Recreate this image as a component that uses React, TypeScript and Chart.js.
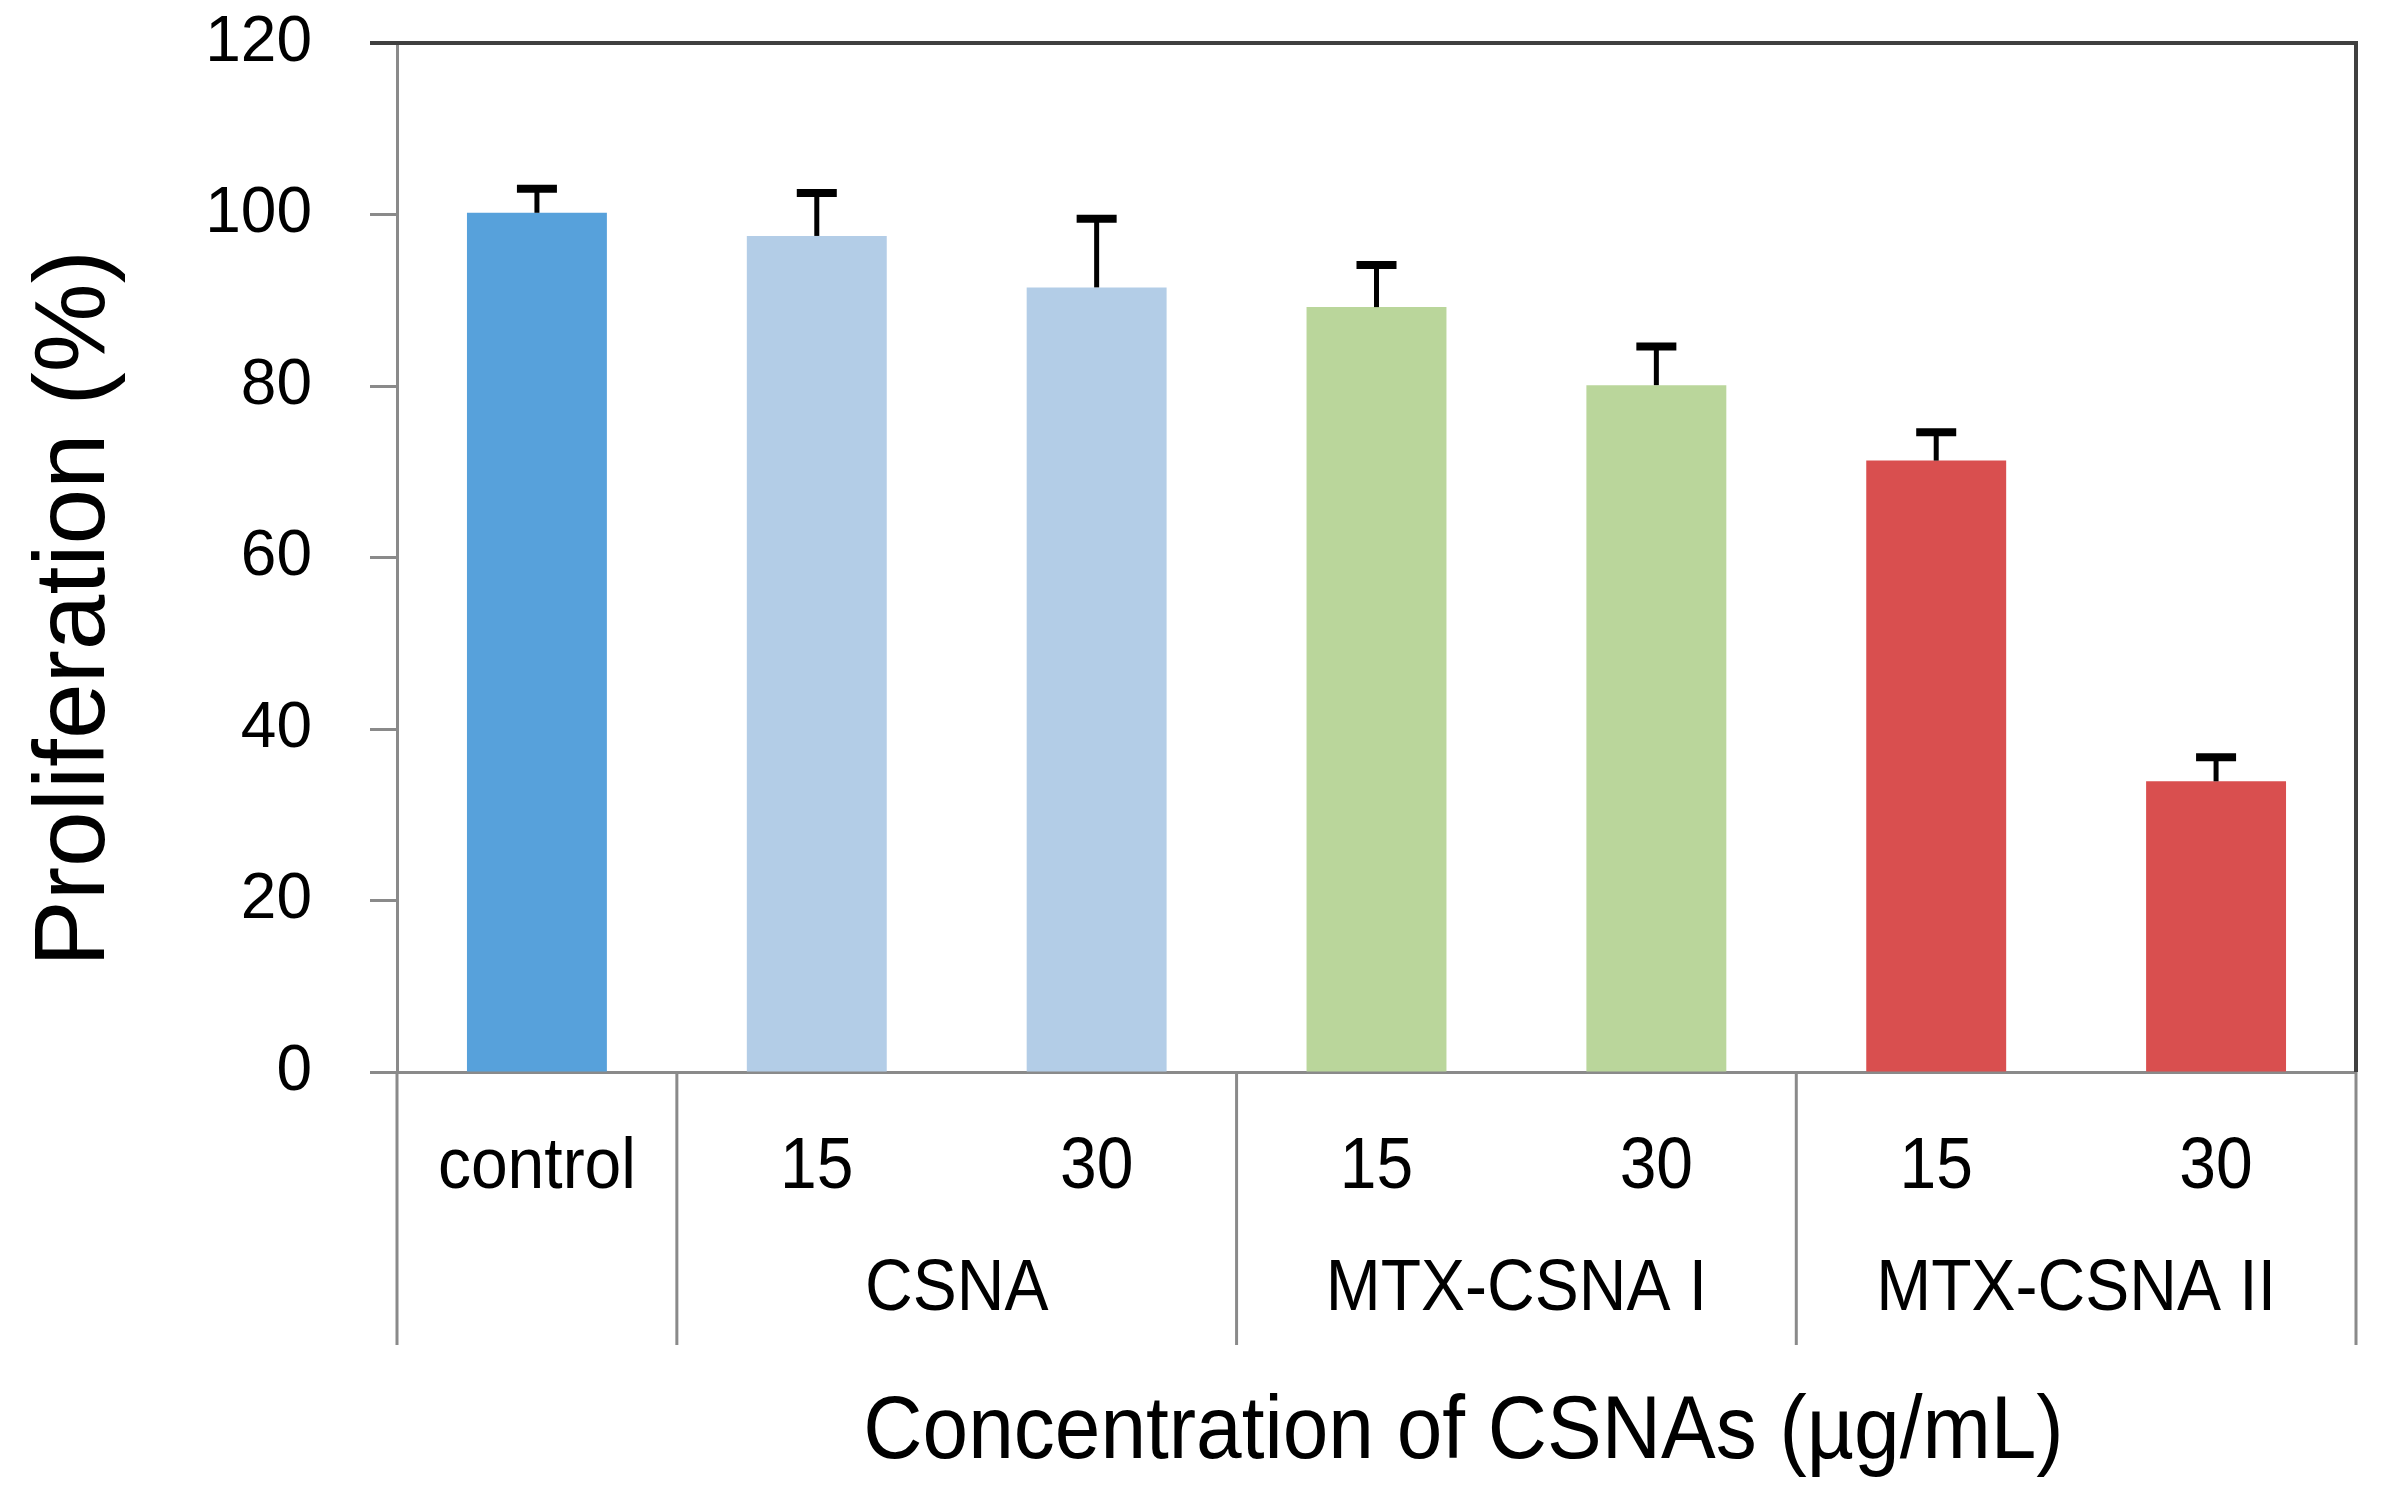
import React, { useEffect, useRef } from "react";
import { Chart, registerables } from "chart.js";

Chart.register(...registerables);

const categories = ["control", "15", "30", "15", "30", "15", "30"];
const groupNames = ["CSNA", "MTX-CSNA I", "MTX-CSNA II"];
const groupFirst = [1, 3, 5];
const groupLast = [2, 4, 6];
const separatorAfter = [0, 2, 4];
const proliferation = [100.2, 97.5, 91.5, 89.2, 80.1, 71.3, 33.9];
const errorUp = [2.8, 5.0, 8.0, 4.9, 4.5, 3.3, 2.8];
const barColors = ["#57A1DB", "#B3CDE7", "#B3CDE7", "#BAD69B", "#BAD69B", "#D94F4F", "#D94F4F"];
const yMin = 0;
const yMax = 120;
const yStep = 20;
const yTitle = "Proliferation (%)";
const xTitle = "Concentration of CSNAs (µg/mL)";

const FONT = "'Liberation Sans', Arial, Helvetica, sans-serif";

function stretchedText(ctx: any, text: string, x: number, y: number, sy: number) {
  ctx.save();
  ctx.translate(x, y);
  ctx.scale(1, sy);
  ctx.fillText(text, 0, 0);
  ctx.restore();
}

const overlay = {
  id: "overlay",
  afterDatasetsDraw(chart: any) {
    const ctx = chart.ctx;
    const y = chart.scales.y;
    const meta = chart.getDatasetMeta(0);
    ctx.save();
    ctx.strokeStyle = "#000000";
    ctx.lineCap = "butt";
    meta.data.forEach((bar: any, i: number) => {
      const cx = bar.x;
      const yBase = y.getPixelForValue(proliferation[i]);
      const yTop = y.getPixelForValue(proliferation[i] + errorUp[i]);
      ctx.lineWidth = 5;
      ctx.beginPath();
      ctx.moveTo(cx, yBase);
      ctx.lineTo(cx, yTop);
      ctx.stroke();
      ctx.lineWidth = 8;
      ctx.beginPath();
      ctx.moveTo(cx - 20, yTop);
      ctx.lineTo(cx + 20, yTop);
      ctx.stroke();
    });
    ctx.restore();
  },
  afterDraw(chart: any) {
    const ctx = chart.ctx;
    const x = chart.scales.x;
    const area = chart.chartArea;
    ctx.save();
    // top and right frame
    ctx.strokeStyle = "#404040";
    ctx.lineWidth = 4;
    ctx.beginPath();
    ctx.moveTo(area.left - 27, area.top);
    ctx.lineTo(area.right, area.top);
    ctx.lineTo(area.right, area.bottom);
    ctx.stroke();

    // separators below axis
    const bottomY = 1345;
    const half = (x.getPixelForValue(1) - x.getPixelForValue(0)) / 2;
    const xs = [area.left, ...separatorAfter.map((i) => x.getPixelForValue(i) + half), area.right];
    ctx.strokeStyle = "#8a8a8a";
    ctx.lineWidth = 3;
    xs.forEach((px) => {
      ctx.beginPath();
      ctx.moveTo(px, area.bottom);
      ctx.lineTo(px, bottomY);
      ctx.stroke();
    });

    ctx.fillStyle = "#000000";
    ctx.textAlign = "center";
    ctx.textBaseline = "middle";
    ctx.font = `66px ${FONT}`;
    categories.forEach((c, i) => {
      stretchedText(ctx, c, x.getPixelForValue(i), area.bottom + 96, 1.1);
    });
    groupNames.forEach((g, k) => {
      const cx = (x.getPixelForValue(groupFirst[k]) + x.getPixelForValue(groupLast[k])) / 2;
      stretchedText(ctx, g, cx, area.bottom + 218, 1.1);
    });

    ctx.font = `82px ${FONT}`;
    stretchedText(ctx, xTitle, (area.left + area.right) / 2 + 87, area.bottom + 362, 1.08);

    ctx.save();
    ctx.translate(76, (area.top + area.bottom) / 2 + 51);
    ctx.rotate(-Math.PI / 2);
    ctx.font = `100px ${FONT}`;
    ctx.fillText(yTitle, 0, 0);
    ctx.restore();

    ctx.restore();
  },
};

export default function App() {
  const ref = useRef<HTMLCanvasElement | null>(null);
  useEffect(() => {
    if (!ref.current) return;
    const chart = new Chart(ref.current, {
      type: "bar",
      data: {
        labels: categories,
        datasets: [
          {
            data: proliferation,
            backgroundColor: barColors,
            borderWidth: 0,
            barPercentage: 0.5,
            categoryPercentage: 1.0,
          },
        ],
      },
      options: {
        responsive: false,
        animation: false,
        devicePixelRatio: 1,
        layout: { padding: { left: 0, right: 28, top: 43, bottom: 0 } },
        plugins: { legend: { display: false }, tooltip: { enabled: false }, title: { display: false } },
        scales: {
          x: {
            grid: { display: false },
            border: { display: true, color: "#8a8a8a", width: 3 },
            ticks: { display: false },
            afterFit: (scale: any) => {
              scale.height = 432;
              scale.paddingLeft = 0;
              scale.paddingRight = 0;
            },
          },
          y: {
            min: yMin,
            max: yMax,
            ticks: {
              stepSize: yStep,
              color: "#000000",
              font: { family: FONT, size: 64 },
              padding: 58,
            },
            grid: {
              drawOnChartArea: false,
              drawTicks: true,
              tickLength: 27,
              tickColor: "#8a8a8a",
              tickWidth: 3,
            },
            border: { display: true, color: "#8a8a8a", width: 3 },
            afterFit: (scale: any) => {
              scale.width = 397;
              scale.paddingTop = 0;
              scale.paddingBottom = 0;
            },
          },
        },
      },
      plugins: [overlay],
    });
    return () => chart.destroy();
  }, []);
  return (
    <div style={{ position: "fixed", left: 0, top: 0, width: 2384, height: 1504, background: "#fff" }}>
      <canvas ref={ref} width={2384} height={1504} />
    </div>
  );
}
